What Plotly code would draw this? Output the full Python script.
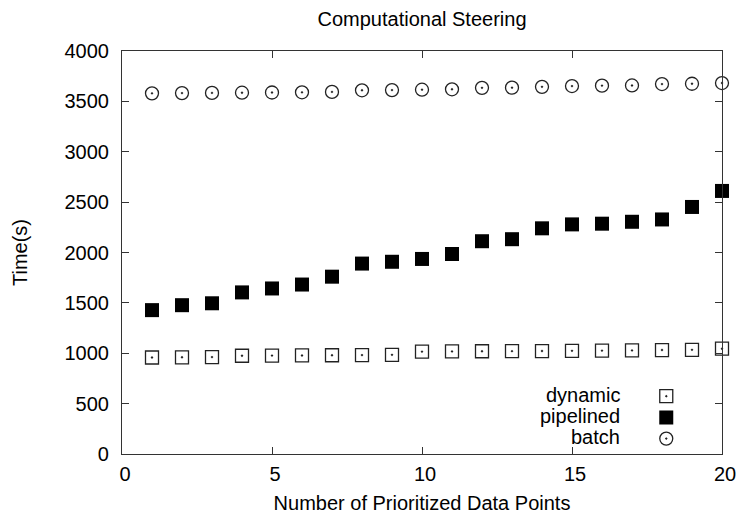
import plotly.graph_objects as go

x_points = list(range(1, 21))
dynamic = [958, 960, 962, 975, 977, 978, 980, 982, 984, 1016, 1018, 1020, 1021, 1022, 1024, 1026, 1028, 1032, 1034, 1045]
pipelined = [1428, 1477, 1496, 1604, 1643, 1682, 1760, 1890, 1908, 1936, 1985, 2112, 2132, 2240, 2279, 2286, 2305, 2328, 2452, 2611]
batch = [3580, 3582, 3584, 3586, 3588, 3590, 3594, 3610, 3612, 3616, 3620, 3634, 3636, 3644, 3652, 3656, 3658, 3672, 3675, 3682]
series_names = ["dynamic", "pipelined", "batch"]
x_ticks = [0, 5, 10, 15, 20]
y_ticks = [0, 500, 1000, 1500, 2000, 2500, 3000, 3500, 4000]

FONT = "Liberation Sans, Arial, Helvetica, sans-serif"

fig = go.Figure()
styles = [
    dict(symbol="square-open-dot", size=13, color="#222", line=dict(width=1.3, color="#222")),
    dict(symbol="square", size=14, color="black", line=dict(width=0)),
    dict(symbol="circle-open-dot", size=13, color="#222", line=dict(width=1.3, color="#222")),
]
for name, vals, st in zip(series_names, [dynamic, pipelined, batch], styles):
    fig.add_trace(go.Scatter(x=x_points, y=vals, mode="markers", name=" ",
                             marker=st, showlegend=True, cliponaxis=False))

W, H = 748, 522
L, R, T, B = 122, 16, 51, 62
pw = W - L - R
ph = H - T - B

def px2paper_x(px):
    return (px - L) / pw

def px2paper_y(py):
    return (H - B - py) / ph

axis_common = dict(
    showline=True, linecolor="#333", linewidth=1.2, mirror="ticks",
    ticks="inside", ticklen=7, tickwidth=1, tickcolor="#333",
    showgrid=False, zeroline=False,
    tickfont=dict(family=FONT, size=20, color="black"),
)

fig.update_layout(
    width=W, height=H,
    margin=dict(l=L, r=R, t=T, b=B, pad=0),
    paper_bgcolor="white", plot_bgcolor="white",
    font=dict(family=FONT, size=20, color="black"),
    title=dict(text="Computational Steering", x=px2paper_x(427), xref="paper",
               xanchor="center", y=1 - 19 / H, yref="container", yanchor="middle",
               font=dict(family=FONT, size=20, color="black")),
    xaxis=dict(range=[0, 20], tickvals=x_ticks, ticktext=[str(v) for v in x_ticks],
               ticklabelstandoff=2, ticklabelshift=3,
               title=dict(text="Number of Prioritized Data Points", standoff=11,
                          font=dict(family=FONT, size=20)),
               **axis_common),
    yaxis=dict(range=[0, 4000], tickvals=y_ticks, ticktext=[str(v) for v in y_ticks],
               ticklabelstandoff=8,
               title=dict(text="Time(s)", standoff=31, font=dict(family=FONT, size=20)),
               **axis_common),
    showlegend=True,
    legend=dict(x=px2paper_x(655), y=px2paper_y(385.5), xanchor="left", yanchor="top",
                bgcolor="rgba(0,0,0,0)", borderwidth=0,
                font=dict(family=FONT, size=14), itemwidth=30, tracegroupgap=0),
)

for i, name in enumerate(series_names):
    fig.add_annotation(text=name, xref="paper", yref="paper",
                       x=px2paper_x(630), y=px2paper_y(400 + i * 21.5),
                       xanchor="right", yanchor="middle", showarrow=False,
                       font=dict(family=FONT, size=20, color="black"))

fig.write_html("out.html", config={"displayModeBar": False},
               post_script="document.body.style.margin='0';document.body.style.overflow='hidden';")
